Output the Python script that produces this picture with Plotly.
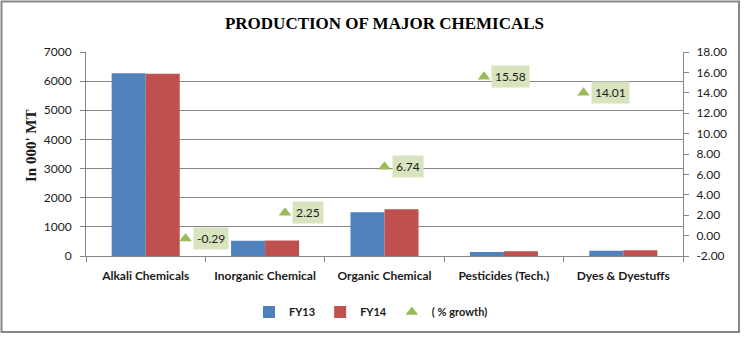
import plotly.graph_objects as go

categories = ["Alkali Chemicals", "Inorganic Chemical", "Organic Chemical", "Pesticides (Tech.)", "Dyes & Dyestuffs"]
fy13 = [6270, 520, 1500, 140, 176]
fy14 = [6252, 532, 1601, 162, 201]
growth = [-0.29, 2.25, 6.74, 15.58, 14.01]
growth_labels = ["-0.29", "2.25", "6.74", "15.58", "14.01"]
growth_pos = [1, 2, 3, 4, 5]

left_ticks = [0, 1000, 2000, 3000, 4000, 5000, 6000, 7000]
right_ticks = [-2, 0, 2, 4, 6, 8, 10, 12, 14, 16, 18]

BLUE = "#4f81bd"
RED = "#c0504d"
GREEN = "#9bbb59"
LABEL_BG = "#d7e4bd"
AXIS = "#868686"
TXT = "#1a1a1a"
SANS = "Lato, 'Liberation Sans', sans-serif"

fig = go.Figure()
fig.add_trace(go.Bar(x=categories, y=fy13, name="<b>FY13</b>", marker=dict(color=BLUE, line=dict(width=0))))
fig.add_trace(go.Bar(x=categories, y=fy14, name="<b>FY14</b>", marker=dict(color=RED, line=dict(width=0))))
fig.add_trace(go.Scatter(x=growth_pos, y=growth, name="<b>( % growth)</b>", mode="markers",
                         xaxis="x2", yaxis="y2",
                         marker=dict(symbol="triangle-up", size=11, color=GREEN)))

annotations = []
for xp, yv, lab in zip(growth_pos, growth, growth_labels):
    annotations.append(dict(x=xp, y=yv, xref="x2", yref="y2", text=lab, showarrow=False,
                            xanchor="left", yanchor="middle", xshift=7,
                            bgcolor=LABEL_BG, borderpad=3,
                            font=dict(family=SANS, size=12, color=TXT)))
annotations.append(dict(x=(31 - 86) / 597, y=(256 - 146) / 204, xref="paper", yref="paper",
                        text="<b>In 000' MT</b>", textangle=-90, showarrow=False,
                        xanchor="center", yanchor="middle",
                        font=dict(family="'Liberation Serif', serif", size=15, color=TXT)))

fig.update_layout(
    width=748, height=340,
    margin=dict(l=86, r=65, t=52, b=84),
    paper_bgcolor="white", plot_bgcolor="white",
    title=dict(text="<b>PRODUCTION OF MAJOR CHEMICALS</b>", x=0.5, xref="paper", xanchor="center",
               y=1 - 23 / 340, yanchor="middle",
               font=dict(family="'Liberation Serif', serif", size=17, color="black")),
    barmode="group", bargap=0.43, bargroupgap=0,
    showlegend=True,
    legend=dict(orientation="h", x=(371 - 86) / 597, xanchor="center", y=(256 - 312) / 204, yanchor="middle",
                font=dict(family=SANS, size=11, color=TXT), itemwidth=30, tracegroupgap=0,
                bgcolor="rgba(0,0,0,0)"),
    xaxis=dict(type="category", showgrid=False, showline=True, linecolor=AXIS, linewidth=1,
               ticks="outside", tickson="boundaries", ticklen=5, tickcolor=AXIS,
               ticklabelstandoff=9,
               tickfont=dict(family=SANS, size=12, color=TXT), tickprefix="<b>", ticksuffix="</b>"),
    xaxis2=dict(overlaying="x", range=[0, 6], visible=False),
    yaxis=dict(range=[0, 7000], tickvals=left_ticks, showgrid=True, gridcolor=AXIS, gridwidth=1,
               showline=True, linecolor=AXIS, linewidth=1, ticks="outside", ticklen=5, tickcolor=AXIS,
               ticklabelstandoff=6,
               tickfont=dict(family=SANS, size=12, color=TXT), zeroline=False),
    yaxis2=dict(overlaying="y", side="right", range=[-2, 18], tickvals=right_ticks,
                ticktext=[f"{v:.2f}" for v in right_ticks], showgrid=False, zeroline=False,
                showline=True, linecolor=AXIS, linewidth=1, ticks="outside", ticklen=5, tickcolor=AXIS,
                ticklabelstandoff=5,
                tickfont=dict(family=SANS, size=12, color=TXT)),
    annotations=annotations,
    shapes=[dict(type="rect", xref="paper", yref="paper",
                 x0=(1.5 - 86) / 597, x1=(739 - 86) / 597,
                 y0=(256 - 332) / 204, y1=(256 - 1.5) / 204,
                 line=dict(color="#878787", width=2), fillcolor="rgba(0,0,0,0)", layer="below")],
)

fig.write_html("out.html")
